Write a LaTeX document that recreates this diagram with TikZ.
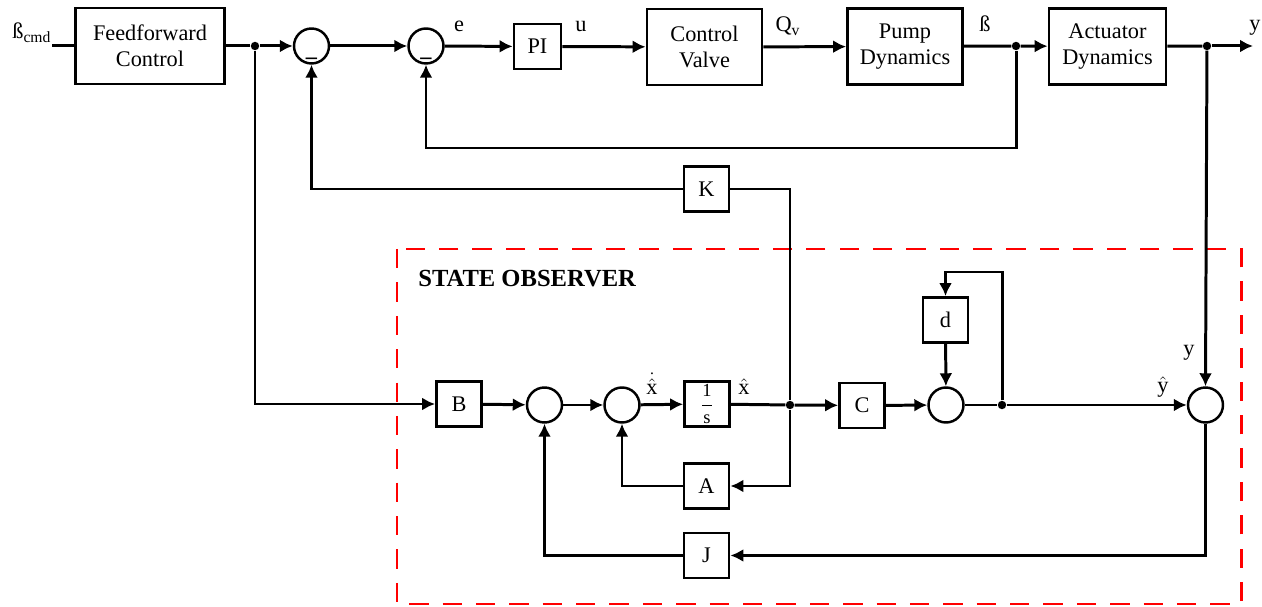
\documentclass[tikz,border=0pt]{standalone}
\usepackage{amsmath}
\usepackage{fontspec}
\setmainfont{Liberation Serif}
\usetikzlibrary{arrows.meta, calc}
\tikzset{
    >={Latex[length=7.4pt,width=7.4pt]},
    signal/.style={line width=1.7pt},
    block/.style={draw, line width=1.6pt, inner sep=0pt, align=center},
    bigblock/.style={block, minimum width=2.3cm, minimum height=1.52cm},
    gain/.style={block, minimum width=0.9cm, minimum height=0.9cm},
    sumpoint/.style={draw, circle, line width=1.4pt, minimum size=0.7cm, inner sep=0pt},
    junction/.style={shape=circle, fill=black, inner sep=0pt, minimum size=4.8pt},
    observer/.style={red, line width=1.7pt, dash pattern=on 11pt off 8pt},
}

\begin{document}
\begin{tikzpicture}[x=0.02cm, y=-0.02cm, font=\fontsize{12.7}{15}\selectfont]
    \useasboundingbox (0,0) rectangle (1262,607);
    % forward path
    \node[bigblock, minimum width=2.98cm] (ff) at (150,46) {Feedforward\\Control};
    \node[gain, minimum width=0.94cm] (pi) at (537.5,46.5) {PI};
    \node[bigblock] (valve) at (704.5,47) {Control\\Valve};
    \node[bigblock] (pump) at (905,46.5) {Pump\\Dynamics};
    \node[bigblock, minimum width=2.34cm] (act) at (1107.5,46.5) {Actuator\\Dynamics};
    \node[sumpoint] (sum_1) at (311.5,46) {};
    \node[sumpoint] (sum_2) at (426,46) {};
    \foreach \s in {1,2}
        \node[inner sep=0pt] (minus_\s) at ($(sum_\s.center)+(0,12)$) {\textbf{\_}};
    \node[junction] (j_ff) at (255,46) {};
    \node[junction] (j_beta) at (1016,46) {};
    \node[junction] (j_y) at (1207,46) {};
    \coordinate (cmd_in) at (52,46);
    \coordinate (y_out) at (1253,46);
    \coordinate (fb_beta) at (1016,148);
    \node[anchor=base west, inner sep=0pt] (l_cmd) at (12,39) {ß\textsubscript{cmd}};
    \node[anchor=base, inner sep=0pt] (l_e) at (459,32) {e};
    \node[anchor=base, inner sep=0pt] (l_u) at (581,32) {u};
    \node[anchor=base, inner sep=0pt] (l_q) at (788,32) {Q\textsubscript{v}};
    \node[anchor=base, inner sep=0pt] (l_beta) at (985,32) {ß};
    \node[anchor=base, inner sep=0pt] (l_y) at (1255,31) {y};
    \node[gain] (K) at (706.5,189) {K};
    % state observer
    \draw[observer] (397,249) rectangle (1241,604);
    \node[anchor=base west, inner sep=0pt, font=\fontsize{14}{16}\selectfont\bfseries] (obs) at (418,287) {STATE OBSERVER};
    \node[gain] (B) at (459,404) {B};
    \node[gain, font=\fontsize{10.5}{12}\selectfont] (int) at (707,404) {$\dfrac{\text{1}}{\text{s}}$};
    \node[gain] (C) at (862,405.5) {C};
    \node[gain] (d) at (945.5,320) {d};
    \node[gain] (A) at (706.5,486) {A};
    \node[gain] (J) at (706.5,555.5) {J};
    \node[sumpoint] (sum_3) at (544.5,405) {};
    \node[sumpoint] (sum_4) at (622,405) {};
    \node[sumpoint] (sum_5) at (946,405) {};
    \node[sumpoint] (sum_6) at (1205.5,405) {};
    \node[junction] (j_x) at (790,405) {};
    \node[junction] (j_yh) at (1002,405) {};
    \coordinate (d_loop) at (1002,272);
    \node[anchor=base, inner sep=0pt] (l_xdot) at (652,395) {$\overset{\text{.}}{\hat{\text{x}}}$};
    \node[anchor=base, inner sep=0pt] (l_xhat) at (744,395) {$\hat{\text{x}}$};
    \node[anchor=base, inner sep=0pt] (l_yhat) at (1163,393) {$\hat{\text{y}}$};
    \node[anchor=base, inner sep=0pt] (l_ym) at (1189,356) {y};
    % connectors
    \draw[signal] (cmd_in) -- (ff);
    \draw[signal] (ff) -- (j_ff);
    \foreach \a/\b in {j_ff/sum_1, sum_1/sum_2, sum_2/pi, pi/valve, valve/pump, j_beta/act,
                       B/sum_3, sum_3/sum_4, sum_4/int, j_x/C, C/sum_5, j_yh/sum_6, d/sum_5}
        \draw[->, signal] (\a) -- (\b);
    \foreach \a/\b in {pump/j_beta, act/j_y, int/j_x, sum_5/j_yh}
        \draw[signal] (\a) -- (\b);
    \draw[->, signal] (j_y) -- (y_out);
    \draw[->, signal] (j_beta) -- (fb_beta) -| (sum_2.south);
    \draw[signal] (j_x) |- (K.east);
    \draw[->, signal] (K.west) -| (sum_1.south);
    \draw[->, signal] (j_ff) |- (B.west);
    \draw[->, signal] (j_yh) -- (d_loop) -| (d.north);
    \draw[->, signal] (j_y) -- (sum_6.north);
    \draw[->, signal] (j_x) |- (A.east);
    \draw[->, signal] (A.west) -| (sum_4.south);
    \draw[->, signal] (sum_6.south) |- (J.east);
    \draw[->, signal] (J.west) -| (sum_3.south);
\end{tikzpicture}
\end{document}
